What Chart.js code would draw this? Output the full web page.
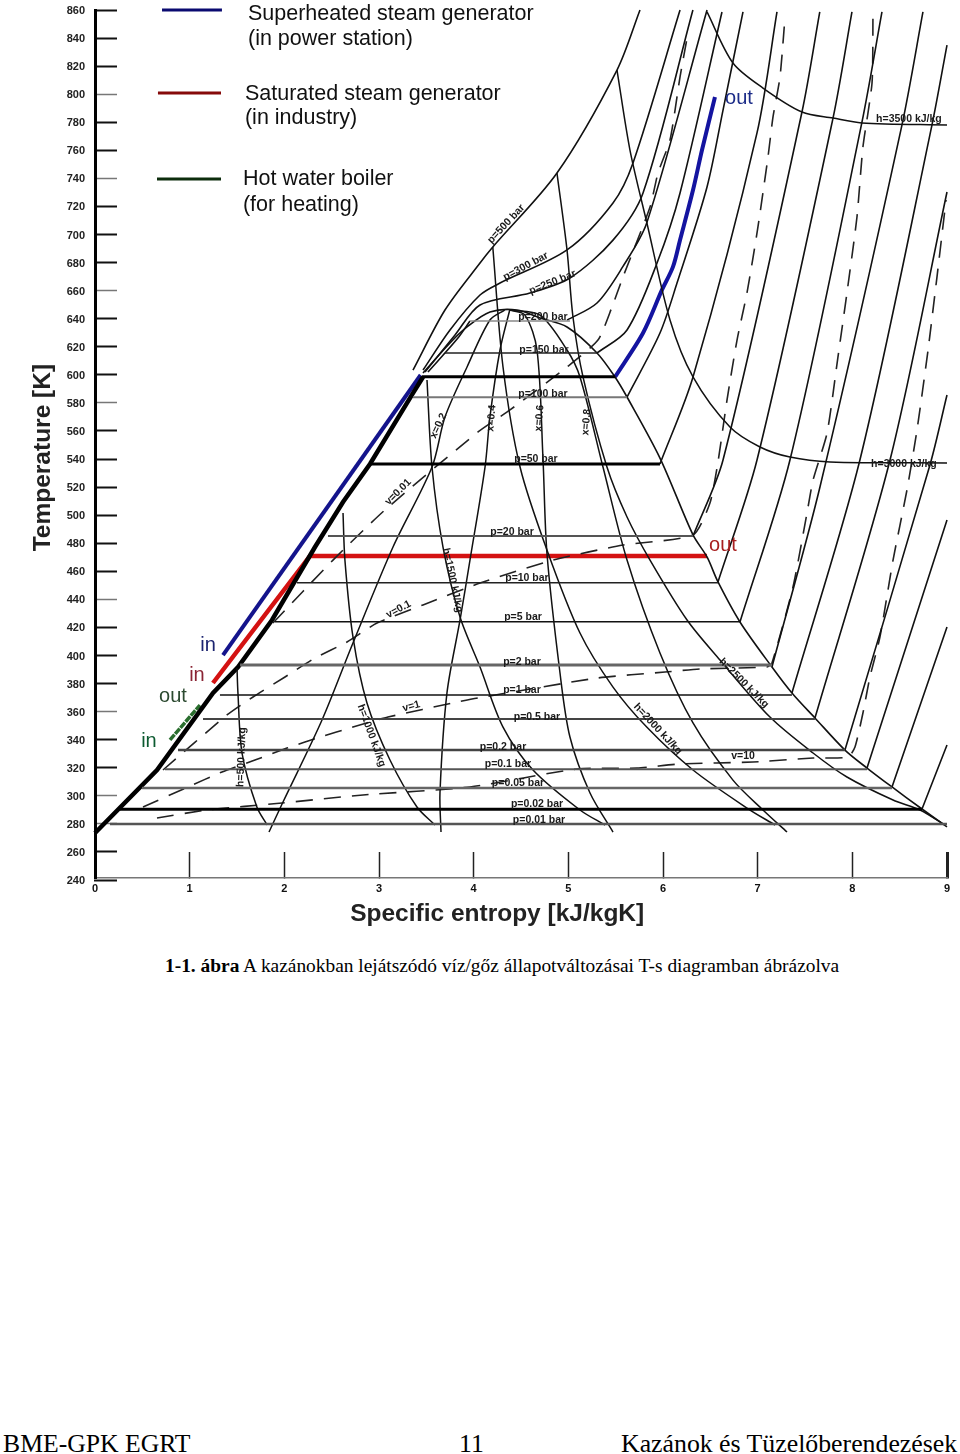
<!DOCTYPE html>
<html><head><meta charset="utf-8">
<script src="https://cdn.jsdelivr.net/npm/chart.js@4"></script>
<style>
html,body{margin:0;padding:0;background:#fff;width:960px;height:1454px;overflow:hidden}
#c{position:absolute;left:0;top:0;filter:blur(0.4px)}
.t{position:absolute;font-family:"Liberation Serif",serif;color:#000;white-space:nowrap}
</style></head><body>
<canvas id="c" width="960" height="940"></canvas>
<div class="t" style="left:165px;top:955px;font-size:19.4px;line-height:22px"><b>1-1. ábra</b> A kazánokban lejátszódó víz/gőz állapotváltozásai T-s diagramban ábrázolva</div>
<div class="t" style="left:3px;top:1429px;font-size:25.7px">BME-GPK EGRT</div>
<div class="t" style="left:459px;top:1429px;font-size:25.7px">11</div>
<div class="t" style="left:621px;top:1429px;font-size:25.8px">Kazánok és Tüzelőberendezések</div>
<script>
// ----- axes
const yTickValues=[860,840,820,800,780,760,740,720,700,680,660,640,620,600,580,560,540,520,500,480,460,440,420,400,380,360,340,320,300,280,260,240];
const yGrayTicks=[800,740,660,580,440,360,300,280];
const xTickValues=[0,1,2,3,4,5,6,7,8,9];

// ----- saturation dome (s kJ/kgK, T K)
const boilS=[0,0.655,1.247,1.511,1.87,2.324,2.62,2.905,3.359,3.465];
const boilT=[273.5,318.4,373.3,391.8,425.3,477.3,509.4,536.5,587,598.5];
const domeS=[3.465,3.75,3.93,4.172,4.458,4.7,4.986,5.303,5.493,5.62,5.968,6.317,6.465,6.581,6.813,7.151,7.362,7.605,7.922,8.155,8.419,8.736,9];
const domeT=[601.3,622.7,634.1,644.8,646.2,640.5,634.1,615.6,598.5,584.2,540.7,485.9,470.2,452.4,423.9,391.8,373.3,355.5,332.6,319.8,306.3,290.6,277.8];

// ----- isobars inside the dome
const isoP=[0.01,0.02,0.05,0.1,0.2,0.5,1,2,5,10,20,50,100,120,150,200];
const isoT=[280,290.4,305.5,318.9,332.6,354.7,371.8,393.2,424,451.8,485.1,536.5,584,598.7,615.6,638.4];
const isoSLeft=[0.158,0.264,0.496,0.739,0.877,1.141,1.32,1.532,1.901,2.134,2.461,2.905,3.359,3.454,3.697,3.961];
const isoSRight=[9,8.736,8.419,8.155,7.922,7.605,7.362,7.151,6.813,6.581,6.317,5.968,5.62,5.493,5.303,5.017];

// ----- isobars outside the dome
const p500S=[3.359,3.697,4.067,4.202,4.88,5.514,5.757], p500T=[603.4,646.2,679.7,691.1,743.8,817.2,860];
const p300S=[3.465,3.75,4.067,4.278,4.986,5.472,5.683,6.18], p300T=[603.4,632,656.9,665.4,689,722.5,751,860];
const p250S=[3.486,3.803,4.067,4.595,5.017,5.472,5.789,6.316], p250T=[602,628.4,649.8,658.3,669,696,729.6,860];
const p200LiqS=[3.517,3.834,3.961], p200LiqT=[602,626.2,638.4];
const p200S=[4.986,5.303,5.574,5.828,6.465], p200T=[639,651.2,676.9,708.2,860];
const p150S=[5.303,5.62,5.937,6.18,6.623], p150T=[615.6,632,679.7,729.6,858.6];
const p100S=[5.62,5.968,6.148,6.465,6.634,6.845], p100T=[584.2,629.8,665.4,733.9,788.7,858.6];
const p50S=[5.968,6.317,6.993,7.204], p50T=[536.5,598.5,772.4,858.6];
const p20S=[6.317,6.634,7.468,7.656], p20T=[485.1,539.3,787.3,858.6];
const p10S=[6.581,6.993,7.796,7.996], p10T=[452.4,539.3,783,858.6];
const p5S=[6.813,7.341,8.1,8.313], p5T=[423.8,539.3,779.5,858.6];
const p2S=[7.151,7.658,8.524,8.746], p2T=[391.8,520.1,778,858.6];
const p1S=[7.362,8.08,8.841,9], p1T=[373.3,539.3,778,835];
const p05S=[7.605,8.398,9], p05T=[355.4,539.3,730.3];
const p02S=[7.922,8.82,9], p02T=[332.6,535.8,585.6];
const p01S=[8.155,9], p01T=[319.8,496.5];
const p005S=[8.419,9], p005T=[306.3,420.3];
const p002S=[8.736,9], p002T=[290.6,336.2];

// ----- enthalpy lines
const h3500S=[6.465,6.739,7.056,7.468,7.796,8.1,9], h3500T=[858.6,822.2,804.4,787.3,783,779.5,778];
const h3000S=[5.514,5.651,5.83,6.074,6.317,6.707,7.024,7.341,7.764,9], h3000T=[817.2,760.2,708.2,639.1,598.5,562.8,548.6,541.4,537.9,537.2];
const h2500S=[4.88,4.986,5.049,5.155,5.408,5.62,5.863,6.254,6.602,7.13,7.585,7.943,8.43,8.715,8.979], h2500T=[743.8,689,641.2,598.5,534.3,498.7,468,425.3,396.8,356.1,330.5,313.4,297,289.9,279.2];
const h2000S=[4.202,4.31,4.49,4.774,5.123,5.472,5.828,6.317,6.887,7.183], h2000T=[691.1,605.6,534.3,475.2,416,377.5,349,318.4,291.3,279.2];
const h1500S=[3.507,3.56,3.676,3.856,4.067,4.31,4.627,5.123,5.387], h1500T=[596.3,534.3,477.3,427.4,391.8,349,318.4,289.9,279.2];
const h1000S=[2.62,2.64,2.725,2.873,3.116,3.401,3.591], h1000T=[501.5,468,413.2,366.1,325.5,292,279.2];
const h500S=[1.5,1.51,1.553,1.71,1.818], h500T=[391.1,373.3,330.5,292,279.2];

// ----- steam quality lines
const x02S=[1.838,1.986,2.398,2.725,3.148,3.56,3.697,3.93,4.172,4.327], x02T=[274.2,295.6,354,408.9,477.3,534.3,569.9,605.6,639.1,646.2];
const x04S=[3.655,3.644,3.718,3.856,3.961,4.12,4.172,4.278,4.381], x04T=[274.2,302,373.3,425.3,468,534.3,570,617.7,646.2];
const x06S=[5.472,5.229,5.017,4.912,4.774,4.732,4.669,4.542,4.381], x06T=[274.2,302,341.9,387.5,473,540.7,617.7,642.6,646.2];
const x08S=[7.31,7.056,6.739,6.317,5.968,5.62,5.366,5.123,4.986,4.701,4.381], x08T=[274.2,289.9,311.2,351.9,401.8,468,534.3,598.5,617.7,642.6,646.2];

// ----- specific volume lines (dashed)
const v001S=[1.88,2.514,3.063,4.046,4.384,4.986,5.313,5.461,5.577,5.863,5.947,6.074,6.18,6.264], v001T=[423.1,468,503.7,559.3,575,605.6,624.8,648.3,669.7,719.6,743.8,767.4,812.3,843.6];
const v01S=[0.718,1.394,1.669,2.007,2.324,2.662,2.979,3.465,4.067,4.838,5.577,6.317,6.496,6.581,6.676,6.782,6.887,7.003,7.109,7.162,7.236,7.289], v01T=[318.4,357.6,370.4,384.7,398.2,409.6,423.1,436,451.6,468,478.7,485.9,508.7,537.9,582,624.8,658.3,705.4,755.2,783.8,812.3,855];
const v1S=[0.507,0.982,1.342,1.69,2.028,2.377,2.725,3.095,3.824,4.046,5.303,6.021,6.39,7.098,7.151,7.373,7.521,7.585,7.733,7.848,7.943,8.049,8.112,8.208,8.218], v1T=[292,306.3,317,325.5,334,341.9,349,356.1,366.8,369.7,383.9,388.2,390.4,391.8,394.6,448.8,501.5,525,558.5,612.7,658.3,712.5,762.4,808,857.9];
const v10S=[0.655,1.183,1.975,2.831,3.961,5.091,5.725,6.18,6.951,7.585,7.954,8.028,8.112,8.186,8.292,8.43,8.577,8.683,8.8,8.894,8.99], v10T=[284.2,289.9,294.9,300.6,306.3,319.1,319.8,322.7,324.1,326.9,327.6,334.8,359,384.7,413.2,468,517.9,560.7,617.7,669.7,724.6];

// ----- boiler process paths
const blueLiqS=[1.352,3.44], blueLiqT=[400.3,599.9];
const blueVapS=[5.493,5.789,5.989,6.105,6.18,6.317,6.412,6.549], blueVapT=[598.5,629.8,660.5,676.9,696.1,731.7,760.2,798];
const redS=[1.246,2.271,6.465], redT=[380.4,470.9,470.9];
const greenS=[0.792,1.109], greenT=[339.8,364.7];

// ----- legend keys
const keyBlueS=[0.708,1.341], keyBlueT=[860,860];
const keyRedS=[0.665,1.331], keyRedT=[800.9,800.9];
const keyGreenS=[0.655,1.331], keyGreenT=[739.6,739.6];

// ----- small chart labels
const labelText=['p=200 bar','p=150 bar','p=100 bar','p=50 bar','p=20 bar','p=10 bar','p=5 bar','p=2 bar','p=1 bar','p=0.5 bar','p=0.2 bar','p=0.1 bar','p=0.05 bar','p=0.02 bar','p=0.01 bar','p=500 bar','p=300 bar','p=250 bar','h=3500 kJ/kg','h=3000 kJ/kg','h=2500 kJ/kg','h=2000 kJ/kg','h=1500 kJ/kg','h=1000 kJ/kg','h=500 kJ/kg','x=0.2','x=0.4','x=0.6','x=0.8','v=0.01','v=0.1','v=1','v=10'];
const labelS=[4.732,4.743,4.732,4.658,4.405,4.563,4.521,4.51,4.51,4.669,4.31,4.362,4.468,4.669,4.69,4.331,4.542,4.827,8.598,8.545,6.866,5.957,3.792,2.936,1.532,3.613,4.172,4.679,5.176,3.19,3.2,3.338,6.845];
const labelT=[641.9,618.4,587,540.7,488.7,455.9,428.1,396,376.1,356.9,335.5,323.4,309.8,294.9,283.5,708.2,678.3,666.9,783,537.2,381.1,348.3,453.8,343.3,327.6,564.2,569.2,569.2,566.4,517.2,433.8,364.7,329.1];
const labelAngle=[0,0,0,0,0,0,0,0,0,0,0,0,0,0,0,-47,-28,-22,0,0,45,47,78,70,-88,-65,-85,-85,-85,-45,-28,-15,0];

// ----- legend text and in / out marks
const legendText=['Superheated steam generator','(in power station)','Saturated steam generator','(in industry)','Hot water boiler','(for heating)'];
const legendS=[1.616,1.616,1.584,1.584,1.563,1.563];
const legendT=[857.9,840,800.9,783.7,740.3,722.4];
const markText=['in','in','out','in','out','out'];
const markS=[1.194,1.077,0.824,0.57,6.803,6.634];
const markT=[408.2,386.8,371.8,339.8,798,479.4];
const markColor=['#1c2470','#8a2434','#2c4a30','#0c5a30','#1c2c88','#a82020'];

const pts=(s,t)=>s.map((v,i)=>({x:v,y:t[i]}));
const ds=(label,s,t,color,width,extra)=>Object.assign({label,data:pts(s,t),borderColor:color,borderWidth:width,showLine:true,pointRadius:0,tension:0,clip:false,fill:false},extra||{});
const smooth={tension:0.3};
const dash={tension:0.2,borderDash:[17,11]};
const isoColor=['#555','#000','#666','#555','#444','#444','#111','#666','#111','#222','#555','#000','#777','#000','#222','#888'];
const isoWidth=[2.5,3,2.5,2,2.5,2,1.5,3,1.5,1.5,2,3,2,3,1.5,1.5];
const noPad=s=>{s.paddingTop=0;s.paddingBottom=0;s.paddingLeft=0;s.paddingRight=0;};

const datasets=[];
isoP.forEach((p,i)=>datasets.push(ds('p='+p,[isoSLeft[i],isoSRight[i]],[isoT[i],isoT[i]],isoColor[i],isoWidth[i])));
[[h3500S,h3500T],[h3000S,h3000T],[h2500S,h2500T],[h2000S,h2000T],[h1500S,h1500T],[h1000S,h1000T],[h500S,h500T]].forEach((a,i)=>datasets.push(ds('h'+i,a[0],a[1],'#111',1.5,smooth)));
[[x02S,x02T],[x04S,x04T],[x06S,x06T],[x08S,x08T]].forEach((a,i)=>datasets.push(ds('x'+i,a[0],a[1],'#111',1.5,smooth)));
[[p500S,p500T],[p300S,p300T],[p250S,p250T],[p200LiqS,p200LiqT],[p200S,p200T],[p150S,p150T],[p100S,p100T],[p50S,p50T],[p20S,p20T],[p10S,p10T],[p5S,p5T],[p2S,p2T],[p1S,p1T],[p05S,p05T],[p02S,p02T],[p01S,p01T],[p005S,p005T],[p002S,p002T]].forEach((a,i)=>datasets.push(ds('pv'+i,a[0],a[1],'#111',1.6,smooth)));
[[v001S,v001T],[v01S,v01T],[v1S,v1T],[v10S,v10T]].forEach((a,i)=>datasets.push(ds('v'+i,a[0],a[1],'#222',1.6,dash)));
datasets.push(ds('dew',domeS,domeT,'#111',1.6,smooth));
datasets.push(ds('boil',boilS,boilT,'#000',4.5));
datasets.push(ds('Superheated liquid',blueLiqS,blueLiqT,'#14148c',4));
datasets.push(ds('Superheated vapour',blueVapS,blueVapT,'#1414a0',4,smooth));
datasets.push(ds('Saturated steam generator',redS,redT,'#d41212',4.5));
datasets.push(ds('Hot water boiler',greenS,greenT,'#2a6e2e',3.5,{borderDash:[7,1]}));
datasets.push(ds('key blue',keyBlueS,keyBlueT,'#0a0a70',3));
datasets.push(ds('key red',keyRedS,keyRedT,'#860a0a',3));
datasets.push(ds('key green',keyGreenS,keyGreenT,'#0c2c0c',3));

const textPlugin={id:'chartText',afterDatasetsDraw(chart){
  const {ctx,scales:{x,y}}=chart;
  const put=(txt,s,t,font,color,align,angle)=>{
    ctx.save();
    ctx.translate(x.getPixelForValue(s),y.getPixelForValue(t));
    if(angle)ctx.rotate(angle*Math.PI/180);
    ctx.font=font;ctx.fillStyle=color;ctx.textAlign=align;ctx.textBaseline='middle';
    ctx.fillText(txt,0,1.5);ctx.restore();
  };
  labelText.forEach((l,i)=>put(l,labelS[i],labelT[i],'bold 10.5px "Liberation Sans",Arial,sans-serif','#1a1a1a','center',labelAngle[i]));
  legendText.forEach((l,i)=>put(l,legendS[i],legendT[i],'21.5px "Liberation Sans",Arial,sans-serif','#111','left',0));
  markText.forEach((l,i)=>put(l,markS[i],markT[i],'20px "Liberation Sans",Arial,sans-serif',markColor[i],'center',0));
}};

new Chart(document.getElementById('c'),{
  type:'scatter',
  data:{datasets},
  plugins:[textPlugin],
  options:{
    responsive:false,animation:false,
    layout:{padding:{top:10,right:13,left:0,bottom:0}},
    plugins:{legend:{display:false},tooltip:{enabled:false}},
    scales:{
      x:{type:'linear',position:'bottom',min:0,max:9,
        afterFit(s){s.height=62;noPad(s);},
        afterBuildTicks(s){s.ticks=xTickValues.map(v=>({value:v}));},
        border:{display:true,color:'#777',width:1.5},
        grid:{drawOnChartArea:false,tickLength:-26,tickColor:c=>c.tick&&c.tick.value===0?'rgba(0,0,0,0)':'#222',tickWidth:c=>c.tick&&c.tick.value===9?3:1.5},
        ticks:{autoSkip:false,maxRotation:0,padding:30,color:'#111',font:{family:'"Liberation Sans",Arial,sans-serif',size:11,weight:'bold'},callback:v=>String(v)},
        title:{display:true,text:'Specific entropy [kJ/kgK]       ',color:'#222',padding:{top:0,bottom:11},font:{family:'"Liberation Sans",Arial,sans-serif',size:24.5,weight:'bold'}}
      },
      y:{type:'linear',position:'left',min:241.43,max:860,
        afterFit(s){s.width=95;noPad(s);},
        afterBuildTicks(s){s.ticks=yTickValues.map(v=>({value:v}));},
        border:{display:true,color:'#000',width:3},
        grid:{drawOnChartArea:false,tickLength:-22,tickColor:c=>c.tick&&yGrayTicks.includes(c.tick.value)?'#777':'#111',tickWidth:c=>c.tick&&yGrayTicks.includes(c.tick.value)?1.5:2},
        ticks:{autoSkip:false,padding:32,labelOffset:1,color:'#222',font:{family:'"Liberation Sans",Arial,sans-serif',size:11,weight:'bold'},callback:v=>String(v)},
        title:{display:true,text:'Temperature [K]    ',color:'#222',padding:{top:29,bottom:0},font:{family:'"Liberation Sans",Arial,sans-serif',size:24.5,weight:'bold'}}
      }
    }
  }
});
</script>
</body></html>
